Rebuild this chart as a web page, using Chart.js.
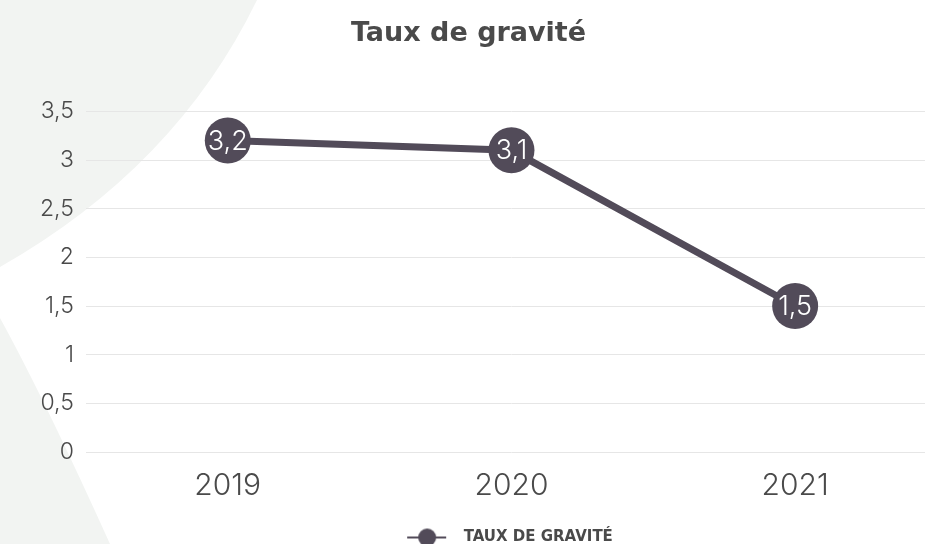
<!DOCTYPE html>
<html>
<head>
<meta charset="utf-8">
<script src="https://cdn.jsdelivr.net/npm/chart.js@4.4.1/dist/chart.umd.min.js"></script>
<style>
  html, body { margin: 0; padding: 0; background: #fff; overflow: hidden; }
</style>
</head>
<body>
<canvas id="gravityChart" width="937" height="544"></canvas>
<script>
const years = ['2019', '2020', '2021'];
const gravityRates = [3.2, 3.1, 1.5];
const seriesLabel = 'TAUX DE GRAVITÉ';
const chartTitle = 'Taux de gravité';

const ink = '#524b59';
const font = '"DejaVu Sans", sans-serif';
const thinFont = 'Inter, "DejaVu Sans", sans-serif';

// comma decimals, french style
const frNum = v => String(v).replace('.', ',');

// legend symbol: short line with a dot, pushed to the right of a wide box
const legendIcon = document.createElement('canvas');
legendIcon.width = 132; legendIcon.height = 20;
(function () {
    const c = legendIcon.getContext('2d');
    c.strokeStyle = ink; c.lineWidth = 2;
    c.beginPath(); c.moveTo(83, 10); c.lineTo(122, 10); c.stroke();
    c.fillStyle = ink;
    c.beginPath(); c.arc(103, 10, 9, 0, Math.PI * 2); c.fill();
})();

// pale curved shapes behind the chart
const backdrop = {
    id: 'backdrop',
    beforeDraw(chart) {
        const ctx = chart.ctx;
        ctx.save();
        ctx.fillStyle = '#f2f4f2';
        ctx.beginPath();
        ctx.moveTo(0, 0);
        ctx.lineTo(257, 0);
        ctx.quadraticCurveTo(176, 167, 0, 267);
        ctx.closePath();
        ctx.fill();
        ctx.beginPath();
        ctx.moveTo(0, 318);
        ctx.quadraticCurveTo(45, 400, 110, 544);
        ctx.lineTo(0, 544);
        ctx.closePath();
        ctx.fill();
        ctx.restore();
    }
};

// values written inside the dots
const pointValues = {
    id: 'pointValues',
    afterDatasetsDraw(chart) {
        const ctx = chart.ctx;
        const meta = chart.getDatasetMeta(0);
        ctx.save();
        ctx.fillStyle = '#ffffff';
        ctx.font = '300 27px ' + thinFont;
        ctx.textAlign = 'center';
        ctx.textBaseline = 'middle';
        meta.data.forEach((pt, i) => {
            ctx.fillText(frNum(chart.data.datasets[0].data[i]), pt.x, pt.y + 1);
        });
        ctx.restore();
    }
};

const ctx = document.getElementById('gravityChart').getContext('2d');
new Chart(ctx, {
    type: 'line',
    data: {
        labels: years,
        datasets: [{
            label: seriesLabel,
            data: gravityRates,
            borderColor: ink,
            backgroundColor: ink,
            borderWidth: 7,
            pointStyle: 'circle',
            pointRadius: 23,
            pointHoverRadius: 23,
            pointBackgroundColor: ink,
            pointBorderWidth: 0,
            tension: 0
        }]
    },
    options: {
        responsive: false,
        animation: false,
        layout: { autoPadding: false, padding: { left: 0, right: 0, top: 0, bottom: -11 } },
        plugins: {
            title: {
                display: true,
                text: chartTitle,
                color: '#4a4a4a',
                font: { family: font, size: 27, weight: 'bold' },
                padding: { top: 18, bottom: 61 }
            },
            legend: {
                position: 'bottom',
                labels: {
                    usePointStyle: true,
                    pointStyleWidth: 132,
                    generateLabels: chart => [{
                        text: seriesLabel,
                        pointStyle: legendIcon,
                        fillStyle: ink,
                        strokeStyle: ink,
                        lineWidth: 0,
                        fontColor: '#4a4a4a',
                        datasetIndex: 0
                    }],
                    color: '#4a4a4a',
                    font: { family: font, size: 15, weight: 'bold' },
                    padding: 6
                }
            },
            tooltip: { enabled: false }
        },
        scales: {
            x: {
                offset: true,
                grid: { display: false, drawTicks: false },
                border: { display: false },
                ticks: {
                    color: '#4a4a4a',
                    font: { family: thinFont, size: 30, weight: 300 },
                    padding: 16
                },
                afterFit: scale => { scale.height += 4; }
            },
            y: {
                min: 0,
                max: 3.5,
                grid: { color: '#e6e6e6', drawTicks: false },
                border: { display: false },
                ticks: {
                    stepSize: 0.5,
                    color: '#4a4a4a',
                    font: { family: thinFont, size: 23, weight: 300 },
                    padding: 12,
                    callback: v => frNum(v)
                },
                afterFit: scale => { scale.width += 28; }
            }
        }
    },
    plugins: [backdrop, pointValues]
});
</script>
</body>
</html>
